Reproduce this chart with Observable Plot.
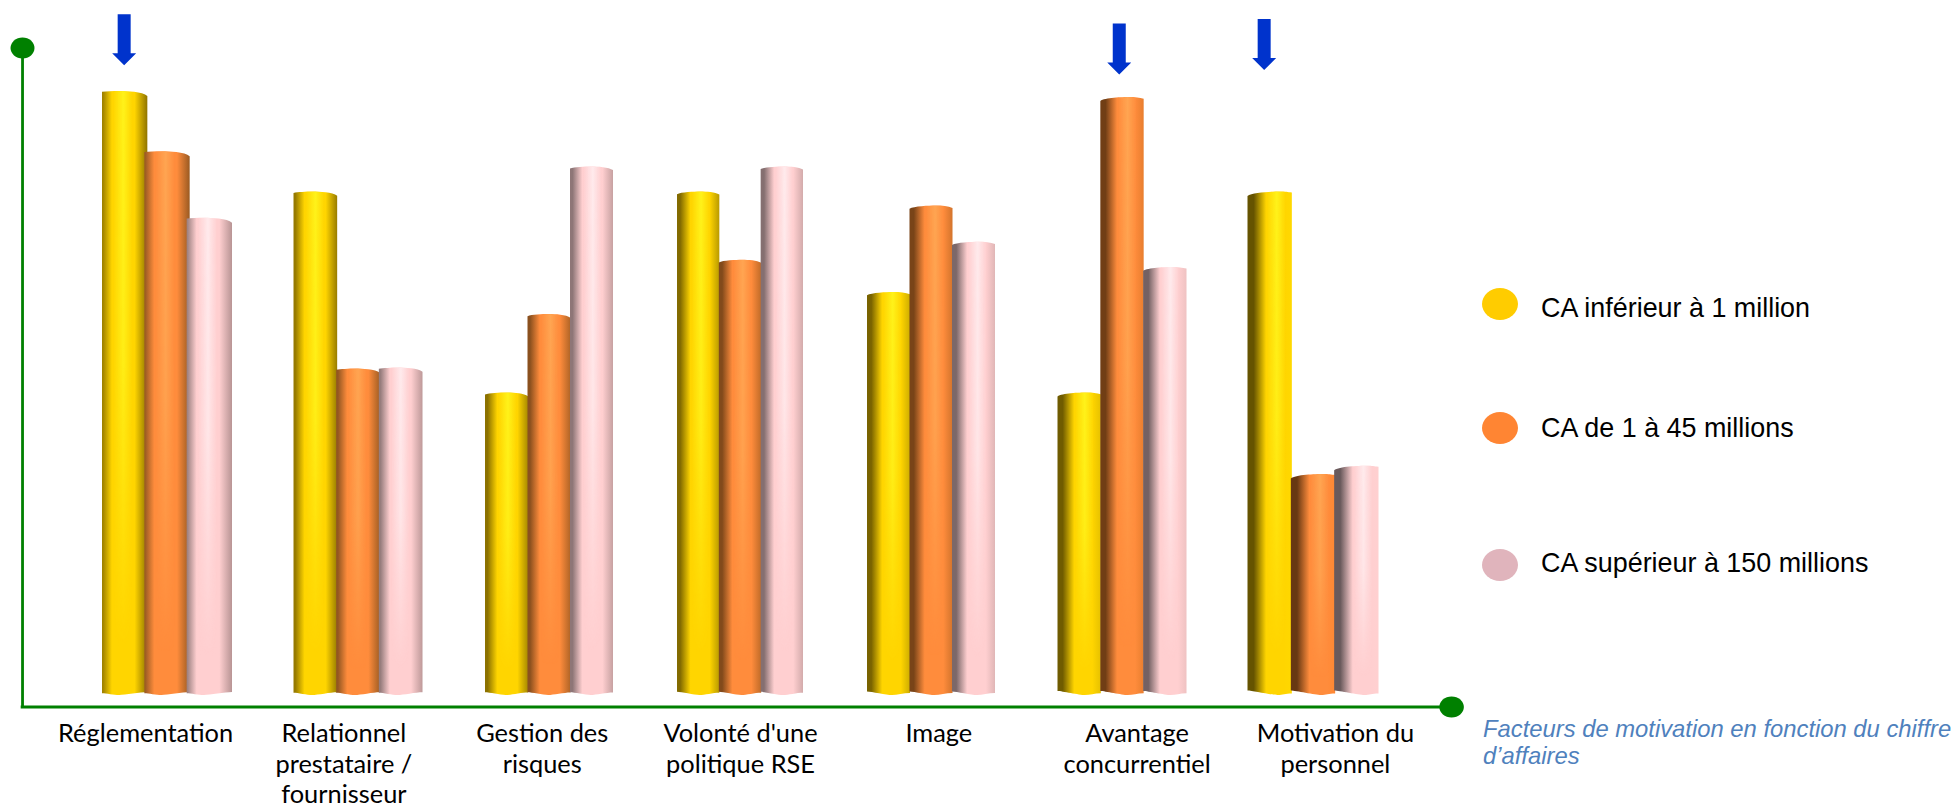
<!DOCTYPE html>
<html lang="fr">
<head>
<meta charset="utf-8">
<title>Facteurs de motivation en fonction du chiffre d'affaires</title>
<script src="https://cdn.jsdelivr.net/npm/d3@7"></script>
<script src="https://cdn.jsdelivr.net/npm/@observablehq/plot@0.6"></script>
<style>
  html, body { margin: 0; padding: 0; background: #fff; overflow: hidden; }
  #page { position: relative; width: 1957px; height: 806px; }
  .legend-item { position: absolute; left: 1482px; display: flex; align-items: center; height: 32px; }
  .legend-swatch { width: 36px; height: 32px; border-radius: 50%; margin-right: 23px; flex: none; }
  .legend-label { font: 26.9px "Liberation Sans", Arial, sans-serif; color: #000; white-space: nowrap; position: relative; }
  #caption { position: absolute; left: 1483px; top: 715px; width: 474px; font: italic 23.8px/27px "Liberation Sans", Arial, sans-serif; color: #4f81bd; white-space: pre; }
</style>
</head>
<body>
<div id="page"></div>
<script>
// Chart values: share of respondents citing each motivation factor.
const categories = [
  "Réglementation",
  "Relationnel\nprestataire /\nfournisseur",
  "Gestion des\nrisques",
  "Volonté d'une\npolitique RSE",
  "Image",
  "Avantage\nconcurrentiel",
  "Motivation du\npersonnel"
];
const seriesNames = ["CA inférieur à 1 million", "CA de 1 à 45 millions", "CA supérieur à 150 millions"];
const smallCompanies = [30, 25, 15, 25, 20, 15, 25];
const midCompanies = [27, 16.2, 18.9, 21.6, 24.3, 29.7, 10.95];
const largeCompanies = [23.7, 16.25, 26.25, 26.25, 22.5, 21.25, 11.35];
const seriesValues = [smallCompanies, midCompanies, largeCompanies];
const legendColors = ["#ffcc00", "#ff8533", "#e0b4bc"];
const legendCenters = [304, 428, 565];
const legendTextShift = [4, 0, -2];

// Arrows highlight the leading bar of selected factors.
const arrowCategory = [0, 5, 6];
const arrowSeries = [0, 1, 0];
const arrowTip = [31.3, 30.85, 31.07];
const arrowNudge = [0.5, -3, -5.5];

// Horizontal span of each bar cluster, in pixels, and the drawn overlap between neighbours.
const clusterSpan = [130, 129, 128, 126, 128, 129, 131];
const clusterOverlap = [3, 1, 0.5, 0.5, 0.5, 0.5, 1];
const pxPerCategory = 191;
const labelSpread = 198.3 / 191;

// Cylinder shading: colours interpolate from the left of the chart to the right.
const shading = [
  {leftA: "#a08200", leftB: "#655300", rightA: "#8f7400", rightB: "#ffd800", base: "#ffd500", glow: "#fff21a"},
  {leftA: "#9c5c24", leftB: "#683812", rightA: "#9a5a22", rightB: "#ff8833", base: "#ff8c3c", glow: "#ffa552"},
  {leftA: "#a08484", leftB: "#6a5a5c", rightA: "#b89494", rightB: "#ffd0d0", base: "#ffcfd0", glow: "#ffeaec"}
];

const rows = categories.flatMap((category, g) =>
  seriesNames.map((name, s) => ({category, name, g, s, value: seriesValues[s][g]}))
);
const stepPx = (g) => (clusterSpan[g] - clusterOverlap[g]) / 3;
const barStart = (g, s) => g + (-clusterSpan[g] / 2 + s * stepPx(g)) / pxPerCategory;
const lerp = (a, b, t) => a + (b - a) * t;

// Gradients for every cluster/series pair plus the vertical fade of the highlight.
function gradientDefs() {
  const defs = d3.create("svg:defs");
  const fade = defs.append("linearGradient").attr("id", "fade").attr("x1", 0).attr("x2", 0).attr("y1", 0).attr("y2", 1);
  [[0, 1], [0.45, 0.85], [0.92, 0]].forEach(([o, v]) =>
    fade.append("stop").attr("offset", o).attr("stop-color", "#fff").attr("stop-opacity", v));
  defs.append("mask").attr("id", "fadeMask").attr("maskContentUnits", "objectBoundingBox")
    .append("rect").attr("width", 1).attr("height", 1).attr("fill", "url(#fade)");
  shading.forEach((c, s) => {
    categories.forEach((_, g) => {
      const t = g / (categories.length - 1);
      const left = d3.interpolateRgb(c.leftA, c.leftB)(t);
      const right = d3.interpolateRgb(c.rightA, c.rightB)(Math.pow(t, 1.4));
      const glowAt = lerp(0.47, 0.66, t);
      const bodyGrad = defs.append("linearGradient").attr("id", `body-${s}-${g}`);
      [[0, left], [lerp(0.02, 0.14, t), left], [lerp(0.22, 0.42, t), c.base], [lerp(0.72, 0.82, t), c.base], [1, right]]
        .forEach(([o, col]) => bodyGrad.append("stop").attr("offset", o).attr("stop-color", col));
      const glowGrad = defs.append("linearGradient").attr("id", `glow-${s}-${g}`);
      [[glowAt - 0.22, 0], [glowAt, 1], [glowAt + 0.2, 0]]
        .forEach(([o, a]) => glowGrad.append("stop").attr("offset", o).attr("stop-color", c.glow).attr("stop-opacity", a));
    });
  });
  return defs.node();
}

// Replaces each rectangle by a cylinder outline with a rounded top and wavy foot.
function cylinderRender(index, scales, values, dimensions, context, next) {
  const g = next(index, scales, values, dimensions, context);
  g.querySelectorAll("rect").forEach((rect, k) => {
    const row = rows[index[k]];
    const x0 = +rect.getAttribute("x");
    const w = +rect.getAttribute("width") + clusterOverlap[row.g];
    const y = +rect.getAttribute("y");
    const yb = y + +rect.getAttribute("height");
    const x1 = x0 + w;
    const t = row.g / (categories.length - 1);
    const dropL = lerp(0.8, 4.5, t), dropR = lerp(5, 1, t);
    const peak = x0 + w * lerp(0.38, 0.72, t);
    const footL = lerp(1.8, 4.5, t), footR = lerp(3, 1.5, t);
    const foot = x0 + w * lerp(0.38, 0.68, t);
    const d = `M${x0},${yb - footL + 1}L${x0},${y + dropL}` +
      `C${x0 + w * 0.1},${y + 0.6} ${peak - w * 0.15},${y} ${peak},${y}` +
      `C${peak + w * 0.15},${y} ${x1 - w * 0.1},${y + 0.6} ${x1},${y + dropR}` +
      `L${x1},${yb - footR + 1}` +
      `C${x1 - w * 0.15},${yb - footR + 1} ${foot + w * 0.12},${yb + 1} ${foot},${yb + 1}` +
      `C${foot - w * 0.12},${yb + 1} ${x0 + w * 0.1},${yb - footL + 1} ${x0},${yb - footL + 1}Z`;
    const ns = "http://www.w3.org/2000/svg";
    const body = document.createElementNS(ns, "path");
    body.setAttribute("d", d);
    body.setAttribute("fill", `url(#body-${row.s}-${row.g})`);
    const glow = document.createElementNS(ns, "path");
    glow.setAttribute("d", d);
    glow.setAttribute("fill", `url(#glow-${row.s}-${row.g})`);
    glow.setAttribute("mask", "url(#fadeMask)");
    rect.replaceWith(body, glow);
  });
  return g;
}

// Bezier ellipse centred on the dot position.
const ellipse = (rx, ry) => ({
  draw(c) {
    const k = 0.5523;
    c.moveTo(-rx, 0);
    c.bezierCurveTo(-rx, -ry * k, -rx * k, -ry, 0, -ry);
    c.bezierCurveTo(rx * k, -ry, rx, -ry * k, rx, 0);
    c.bezierCurveTo(rx, ry * k, rx * k, ry, 0, ry);
    c.bezierCurveTo(-rx * k, ry, -rx, ry * k, -rx, 0);
    c.closePath();
  }
});

// Block arrow whose origin is its tip.
const blockArrow = {
  draw(c) {
    c.moveTo(-6.5, -51);
    c.lineTo(6.5, -51);
    c.lineTo(6.5, -12);
    c.lineTo(12, -12);
    c.lineTo(0, 0);
    c.lineTo(-12, -12);
    c.lineTo(-6.5, -12);
    c.closePath();
  }
};

// Axis frame, expressed in the chart's own units.
const axisLeft = -0.759, axisRight = 6.723, axisBottom = -0.622, axisTop = 32.16;
const axisGreen = "#008000";

const chart = Plot.plot({
  width: 1957,
  height: 806,
  margin: 0,
  style: {background: "#fff", overflow: "visible"},
  x: {type: "linear", domain: [0, 6], range: [167, 1313], axis: null},
  y: {type: "linear", domain: [0, 30], range: [694, 91], axis: null},
  marks: [
    gradientDefs,
    Plot.ruleX([axisLeft], {y1: axisBottom, y2: axisTop, stroke: axisGreen, strokeWidth: 2.8}),
    Plot.ruleY([axisBottom], {x1: axisLeft - 0.007, x2: axisRight, stroke: axisGreen, strokeWidth: 2.8}),
    Plot.dot([0], {x: () => axisLeft, y: () => axisTop, r: 10, symbol: ellipse(12, 10.5), fill: axisGreen, stroke: "none"}),
    Plot.dot([0], {x: () => axisRight, y: () => axisBottom, r: 10, symbol: ellipse(12.3, 10.5), fill: axisGreen, stroke: "none"}),
    Plot.rect(rows, {
      x1: (d) => barStart(d.g, d.s),
      x2: (d) => barStart(d.g, d.s + 1),
      y1: 0,
      y2: "value",
      render: cylinderRender
    }),
    Plot.dot(arrowCategory, {
      x: (g, i) => barStart(g, arrowSeries[i] + 0.5) + arrowNudge[i] / pxPerCategory,
      y: (g, i) => arrowTip[i],
      r: 10,
      symbol: blockArrow,
      fill: "#0033cc",
      stroke: "none"
    }),
    Plot.text(categories, {
      x: (d, i) => 3 + (i - 3) * labelSpread,
      y: () => -1.3,
      text: (d) => d,
      textAnchor: "middle",
      lineAnchor: "top",
      lineHeight: 1.2,
      fontFamily: "Lato, 'Open Sans', sans-serif",
      fontSize: 25.4,
      fill: "#000"
    })
  ]
});

const page = document.getElementById("page");
page.appendChild(chart);

// Legend and caption sit beside the plot area.
seriesNames.forEach((name, i) => {
  const item = document.createElement("div");
  item.className = "legend-item";
  item.style.top = `${legendCenters[i] - 16}px`;
  const swatch = document.createElement("span");
  swatch.className = "legend-swatch";
  swatch.style.background = legendColors[i];
  const label = document.createElement("span");
  label.className = "legend-label";
  label.style.top = `${legendTextShift[i]}px`;
  label.textContent = name;
  item.append(swatch, label);
  page.appendChild(item);
});
const caption = document.createElement("div");
caption.id = "caption";
caption.textContent = "Facteurs de motivation en fonction du chiffre\nd’affaires";
page.appendChild(caption);
</script>
</body>
</html>
